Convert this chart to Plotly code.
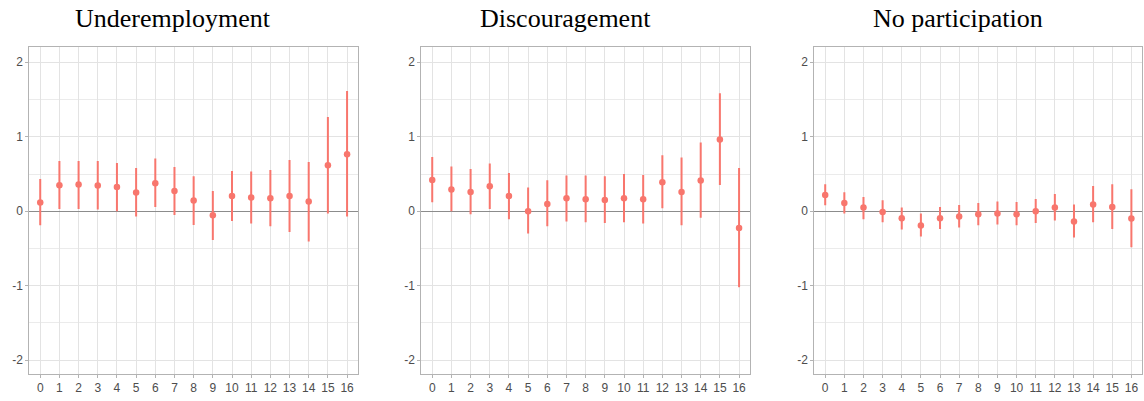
import plotly.graph_objects as go

W, H = 1144, 401

periods = list(range(17))
tick_labels = [str(p) for p in periods]
titles = ["Underemployment", "Discouragement", "No participation"]

under_est = [0.116, 0.349, 0.358, 0.344, 0.327, 0.250, 0.376, 0.273, 0.143, -0.054,
             0.206, 0.183, 0.174, 0.206, 0.130, 0.617, 0.765]
under_hi = [0.434, 0.676, 0.676, 0.676, 0.649, 0.582, 0.707, 0.595, 0.470, 0.273,
            0.541, 0.532, 0.555, 0.689, 0.662, 1.266, 1.615]
under_lo = [-0.188, 0.031, 0.031, 0.022, 0.000, -0.072, 0.058, -0.049, -0.183, -0.385,
            -0.130, -0.166, -0.201, -0.277, -0.407, -0.031, -0.072]

disc_est = [0.420, 0.291, 0.260, 0.336, 0.206, 0.000, 0.098, 0.174, 0.161, 0.152,
            0.174, 0.161, 0.389, 0.260, 0.412, 0.962, -0.224]
disc_hi = [0.729, 0.600, 0.568, 0.640, 0.515, 0.318, 0.416, 0.479, 0.479, 0.470,
           0.501, 0.488, 0.752, 0.720, 0.922, 1.584, 0.582]
disc_lo = [0.121, 0.000, -0.040, 0.031, -0.107, -0.300, -0.200, -0.139, -0.148, -0.157,
           -0.148, -0.166, 0.040, -0.188, -0.089, 0.353, -1.020]

nopart_est = [0.219, 0.112, 0.049, -0.009, -0.094, -0.192, -0.094, -0.072, -0.040, -0.031,
              -0.040, 0.000, 0.049, -0.139, 0.089, 0.058, -0.098]
nopart_hi = [0.362, 0.255, 0.192, 0.148, 0.049, -0.031, 0.058, 0.085, 0.112, 0.130,
             0.125, 0.166, 0.233, 0.089, 0.340, 0.362, 0.295]
nopart_lo = [0.081, -0.031, -0.107, -0.148, -0.246, -0.340, -0.237, -0.219, -0.188, -0.179,
             -0.188, -0.157, -0.125, -0.353, -0.148, -0.237, -0.483]

series = [(under_est, under_lo, under_hi),
          (disc_est, disc_lo, disc_hi),
          (nopart_est, nopart_lo, nopart_hi)]

RED = "#F8766D"
panel_px = [(29.3, 358.0), (421.3, 750.0), (814.3, 1142.3)]
y_dom = (1 - 374.0 / H, 1 - 47.0 / H)

fig = go.Figure()
layout = dict(
    width=W, height=H,
    margin=dict(l=0, r=0, t=0, b=0),
    paper_bgcolor="white", plot_bgcolor="white",
    showlegend=False,
    font=dict(family="Liberation Sans, Arial, sans-serif", size=12, color="#4D4D4D"),
)
annotations = []
for i, ((est, lo, hi), title, (x0, x1)) in enumerate(zip(series, titles, panel_px)):
    n = i + 1
    xa = "x" if n == 1 else f"x{n}"
    ya = "y" if n == 1 else f"y{n}"
    fig.add_trace(go.Scatter(
        x=periods, y=est, mode="markers", xaxis=xa, yaxis=ya,
        marker=dict(color=RED, size=6.5),
        error_y=dict(type="data", symmetric=False,
                     array=[h - e for h, e in zip(hi, est)],
                     arrayminus=[e - l for e, l in zip(est, lo)],
                     color=RED, thickness=2, width=0),
    ))
    axis_common = dict(
        showline=True, mirror=True, linecolor="#B3B3B3", linewidth=1,
        ticks="outside", ticklen=3, tickcolor="#B3B3B3", tickwidth=1,
        gridcolor="#E3E3E3", gridwidth=1, automargin=False,
        tickfont=dict(family="Liberation Sans, Arial, sans-serif", size=12, color="#4D4D4D"),
    )
    layout["xaxis" + ("" if n == 1 else str(n))] = dict(
        axis_common, domain=[x0 / W, x1 / W], range=[-0.57, 16.57],
        tickmode="array", tickvals=periods, ticktext=tick_labels,
        anchor=ya, zeroline=False,
    )
    layout["yaxis" + ("" if n == 1 else str(n))] = dict(
        axis_common, domain=list(y_dom), range=[-2.185, 2.205],
        tickmode="array", tickvals=[-2, -1, 0, 1, 2], ticktext=["-2", "-1", "0", "1", "2"],
        anchor=xa, zeroline=True, zerolinecolor="#8C8C8C", zerolinewidth=1,
        minor=dict(tickvals=[-1.5, -0.5, 0.5, 1.5], showgrid=True,
                   gridcolor="#EBEBEB", gridwidth=1, ticks=""),
    )
    centers = [172.5, 565.0, 958.0]
    annotations.append(dict(
        text=title, xref="paper", yref="paper",
        x=centers[i] / W, y=1 - 18.5 / H, xanchor="center", yanchor="middle",
        showarrow=False,
        font=dict(family="Liberation Serif, Times New Roman, serif", size=26, color="black"),
    ))

layout["annotations"] = annotations
fig.update_layout(**layout)
fig.write_html("out.html", config={"displayModeBar": False},
               post_script="document.body.style.margin='0';")
